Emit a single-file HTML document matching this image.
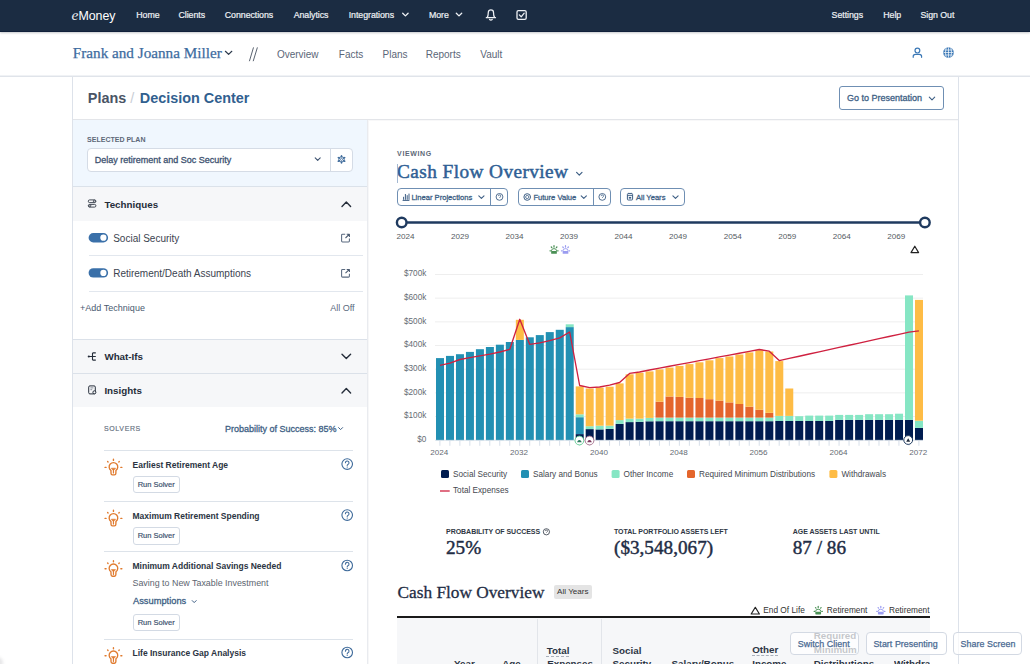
<!DOCTYPE html>
<html><head><meta charset="utf-8"><title>Decision Center</title>
<style>
html,body{margin:0;padding:0;background:#fff;}
body{width:1030px;height:664px;position:relative;overflow:hidden;font-family:'Liberation Sans', Arial, sans-serif;}
.t{position:absolute;white-space:nowrap;}
svg{position:absolute;left:0;top:0;}
</style></head><body>

<div style="position:absolute;left:0;top:0;width:1030px;height:31px;background:#1b2c42;border-bottom:1px solid #10203a;box-shadow:0 1px 2px rgba(20,30,45,0.25)"></div>
<div class="t" style="left:71.4px;top:6.92px;font-size:15.5px;line-height:15.5px;color:#e8ebf0;font-family:'Liberation Serif', 'Times New Roman', serif;font-style:italic">e</div>
<div class="t" style="left:78.60px;top:9.80px;font-size:12.4px;line-height:12.4px;color:#fff;font-weight:normal;font-family:'Liberation Sans', Arial, sans-serif;letter-spacing:-0.1px">Money</div>
<div class="t" style="left:136.30px;top:10.55px;font-size:8.8px;line-height:8.8px;color:#eef1f5;font-weight:normal;font-family:'Liberation Sans', Arial, sans-serif;letter-spacing:-0.05px;-webkit-text-stroke:0.2px #eef1f5">Home</div>
<div class="t" style="left:178.50px;top:10.55px;font-size:8.8px;line-height:8.8px;color:#eef1f5;font-weight:normal;font-family:'Liberation Sans', Arial, sans-serif;letter-spacing:-0.05px;-webkit-text-stroke:0.2px #eef1f5">Clients</div>
<div class="t" style="left:224.80px;top:10.55px;font-size:8.8px;line-height:8.8px;color:#eef1f5;font-weight:normal;font-family:'Liberation Sans', Arial, sans-serif;letter-spacing:-0.05px;-webkit-text-stroke:0.2px #eef1f5">Connections</div>
<div class="t" style="left:293.70px;top:10.55px;font-size:8.8px;line-height:8.8px;color:#eef1f5;font-weight:normal;font-family:'Liberation Sans', Arial, sans-serif;letter-spacing:-0.05px;-webkit-text-stroke:0.2px #eef1f5">Analytics</div>
<div class="t" style="left:348.70px;top:10.55px;font-size:8.8px;line-height:8.8px;color:#eef1f5;font-weight:normal;font-family:'Liberation Sans', Arial, sans-serif;letter-spacing:-0.05px;-webkit-text-stroke:0.2px #eef1f5">Integrations</div>
<div class="t" style="left:428.90px;top:10.55px;font-size:8.8px;line-height:8.8px;color:#eef1f5;font-weight:normal;font-family:'Liberation Sans', Arial, sans-serif;letter-spacing:-0.05px;-webkit-text-stroke:0.2px #eef1f5">More</div>
<div class="t" style="left:831.60px;top:10.55px;font-size:8.8px;line-height:8.8px;color:#eef1f5;font-weight:normal;font-family:'Liberation Sans', Arial, sans-serif;letter-spacing:-0.05px;-webkit-text-stroke:0.2px #eef1f5">Settings</div>
<div class="t" style="left:883.30px;top:10.55px;font-size:8.8px;line-height:8.8px;color:#eef1f5;font-weight:normal;font-family:'Liberation Sans', Arial, sans-serif;letter-spacing:-0.05px;-webkit-text-stroke:0.2px #eef1f5">Help</div>
<div class="t" style="left:920.50px;top:10.55px;font-size:8.8px;line-height:8.8px;color:#eef1f5;font-weight:normal;font-family:'Liberation Sans', Arial, sans-serif;letter-spacing:-0.05px;-webkit-text-stroke:0.2px #eef1f5">Sign Out</div>
<div style="position:absolute;left:0;top:75px;width:1030px;height:1px;background:#f0f2f5"></div>
<div style="position:absolute;left:0;top:76px;width:1030px;height:1px;background:#e0e4ea"></div>
<div class="t" style="left:72.80px;top:44.67px;font-size:15.2px;line-height:15.2px;color:#3e6c9f;font-weight:normal;font-family:'Liberation Serif', 'Times New Roman', serif;-webkit-text-stroke:0.25px #3e6c9f">Frank and Joanna Miller</div>
<div class="t" style="left:276.90px;top:49.73px;font-size:10px;line-height:10px;color:#5b6677;font-weight:normal;font-family:'Liberation Sans', Arial, sans-serif;">Overview</div>
<div class="t" style="left:338.80px;top:49.73px;font-size:10px;line-height:10px;color:#5b6677;font-weight:normal;font-family:'Liberation Sans', Arial, sans-serif;">Facts</div>
<div class="t" style="left:382.50px;top:49.73px;font-size:10px;line-height:10px;color:#5b6677;font-weight:normal;font-family:'Liberation Sans', Arial, sans-serif;">Plans</div>
<div class="t" style="left:425.70px;top:49.73px;font-size:10px;line-height:10px;color:#5b6677;font-weight:normal;font-family:'Liberation Sans', Arial, sans-serif;">Reports</div>
<div class="t" style="left:480.30px;top:49.73px;font-size:10px;line-height:10px;color:#5b6677;font-weight:normal;font-family:'Liberation Sans', Arial, sans-serif;">Vault</div>
<div style="position:absolute;left:72px;top:77px;width:885px;height:600px;border-left:1px solid #dde2ea;border-right:1px solid #dde2ea"></div>
<div style="position:absolute;left:73px;top:119px;width:885px;height:1px;background:#e3e5e9"></div>
<div style="position:absolute;left:368px;top:120px;width:590px;height:1px;background:#f8f8f9"></div>
<div class="t" style="left:87.80px;top:90.71px;font-size:14.4px;line-height:14.4px;color:#4a5465;font-weight:bold;font-family:'Liberation Sans', Arial, sans-serif;">Plans</div>
<div class="t" style="left:130.20px;top:90.71px;font-size:14.4px;line-height:14.4px;color:#c9ced6;font-weight:normal;font-family:'Liberation Sans', Arial, sans-serif;">/</div>
<div class="t" style="left:139.80px;top:90.71px;font-size:14.4px;line-height:14.4px;color:#31608f;font-weight:bold;font-family:'Liberation Sans', Arial, sans-serif;">Decision Center</div>
<div style="position:absolute;left:839px;top:86px;width:103px;height:22px;border:1px solid #6f8fb3;border-radius:3px"></div>
<div class="t" style="left:847.00px;top:93.88px;font-size:9px;line-height:9px;color:#3e5f85;font-weight:normal;font-family:'Liberation Sans', Arial, sans-serif;-webkit-text-stroke:0.3px #3e5f85">Go to Presentation</div>
<div style="position:absolute;left:73px;top:120px;width:294px;height:66px;background:#f0f7fe"></div>
<div style="position:absolute;left:73px;top:186px;width:294px;height:1px;background:#dbe2ea"></div>
<div style="position:absolute;left:367px;top:120px;width:1px;height:544px;background:#e9ebef"></div>
<div style="position:absolute;left:368px;top:120px;width:1px;height:544px;background:#f7f7f8"></div>
<div class="t" style="left:87.10px;top:136.17px;font-size:7px;line-height:7px;color:#5d6878;font-weight:bold;font-family:'Liberation Sans', Arial, sans-serif;">SELECTED PLAN</div>
<div style="position:absolute;left:87px;top:148px;width:264px;height:22px;border:1px solid #d5dce6;border-radius:4px;background:#fff"></div>
<div style="position:absolute;left:329.5px;top:149px;width:1px;height:22px;background:#d5dce6"></div>
<div class="t" style="left:94.70px;top:156.18px;font-size:9px;line-height:9px;color:#3d5270;font-weight:normal;font-family:'Liberation Sans', Arial, sans-serif;-webkit-text-stroke:0.3px #3d5270">Delay retirement and Soc Security</div>
<div style="position:absolute;left:73px;top:187px;width:294px;height:34px;background:#f6f7f9"></div>
<div class="t" style="left:104.40px;top:199.90px;font-size:9.8px;line-height:9.8px;color:#252d3a;font-weight:bold;font-family:'Liberation Sans', Arial, sans-serif;">Techniques</div>
<div class="t" style="left:113.20px;top:233.84px;font-size:10px;line-height:10px;color:#3b4350;font-weight:normal;font-family:'Liberation Sans', Arial, sans-serif;">Social Security</div>
<div style="position:absolute;left:89px;top:255px;width:274px;height:1px;background:#e2e7ee"></div>
<div class="t" style="left:113.20px;top:269.04px;font-size:10px;line-height:10px;color:#3b4350;font-weight:normal;font-family:'Liberation Sans', Arial, sans-serif;">Retirement/Death Assumptions</div>
<div style="position:absolute;left:89px;top:291px;width:274px;height:1px;background:#e2e7ee"></div>
<div class="t" style="left:79.90px;top:304.18px;font-size:9px;line-height:9px;color:#4a5a70;font-weight:normal;font-family:'Liberation Sans', Arial, sans-serif;letter-spacing:0.03px">+Add Technique</div>
<div class="t" style="right:675.50px;top:304.18px;font-size:9px;line-height:9px;color:#5a6a80;font-weight:normal;font-family:'Liberation Sans', Arial, sans-serif;">All Off</div>
<div style="position:absolute;left:73px;top:339px;width:294px;height:1px;background:#dbe1e9"></div>
<div style="position:absolute;left:73px;top:340px;width:294px;height:33px;background:#f6f7f9"></div>
<div class="t" style="left:104.40px;top:352.40px;font-size:9.8px;line-height:9.8px;color:#252d3a;font-weight:bold;font-family:'Liberation Sans', Arial, sans-serif;">What-Ifs</div>
<div style="position:absolute;left:73px;top:373px;width:294px;height:1px;background:#dbe1e9"></div>
<div style="position:absolute;left:73px;top:374px;width:294px;height:33px;background:#f6f7f9"></div>
<div class="t" style="left:104.40px;top:386.40px;font-size:9.8px;line-height:9.8px;color:#252d3a;font-weight:bold;font-family:'Liberation Sans', Arial, sans-serif;">Insights</div>
<div class="t" style="left:104.00px;top:425.27px;font-size:7px;line-height:7px;color:#657080;font-weight:normal;font-family:'Liberation Sans', Arial, sans-serif;letter-spacing:0.62px;-webkit-text-stroke:0.15px #657080">SOLVERS</div>
<div class="t" style="left:224.90px;top:424.58px;font-size:9px;line-height:9px;color:#3e5f85;font-weight:normal;font-family:'Liberation Sans', Arial, sans-serif;-webkit-text-stroke:0.3px #3e5f85">Probability of Success: 85%</div>
<div style="position:absolute;left:104px;top:450px;width:249px;height:1px;background:#dde3ea"></div>
<div class="t" style="left:132.50px;top:460.90px;font-size:8.5px;line-height:8.5px;color:#2b3442;font-weight:bold;font-family:'Liberation Sans', Arial, sans-serif;">Earliest Retirement Age</div>
<div style="position:absolute;left:132.5px;top:475.7px;width:45.7px;height:15.8px;border:1px solid #d3dae4;border-radius:3px;background:#fff"></div>
<div class="t" style="left:137.70px;top:480.95px;font-size:7.5px;line-height:7.5px;color:#3e5470;font-weight:normal;font-family:'Liberation Sans', Arial, sans-serif;-webkit-text-stroke:0.2px #3e5470">Run Solver</div>
<div style="position:absolute;left:104px;top:501px;width:249px;height:1px;background:#dde3ea"></div>
<div class="t" style="left:132.50px;top:512.00px;font-size:8.5px;line-height:8.5px;color:#2b3442;font-weight:bold;font-family:'Liberation Sans', Arial, sans-serif;">Maximum Retirement Spending</div>
<div style="position:absolute;left:132.5px;top:526.8px;width:45.7px;height:15.8px;border:1px solid #d3dae4;border-radius:3px;background:#fff"></div>
<div class="t" style="left:137.70px;top:532.05px;font-size:7.5px;line-height:7.5px;color:#3e5470;font-weight:normal;font-family:'Liberation Sans', Arial, sans-serif;-webkit-text-stroke:0.2px #3e5470">Run Solver</div>
<div style="position:absolute;left:104px;top:551.3px;width:249px;height:1px;background:#dde3ea"></div>
<div class="t" style="left:132.50px;top:562.20px;font-size:8.5px;line-height:8.5px;color:#2b3442;font-weight:bold;font-family:'Liberation Sans', Arial, sans-serif;">Minimum Additional Savings Needed</div>
<div class="t" style="left:132.50px;top:579.47px;font-size:8.9px;line-height:8.9px;color:#5d6570;font-weight:normal;font-family:'Liberation Sans', Arial, sans-serif;">Saving to New Taxable Investment</div>
<div class="t" style="left:133.00px;top:596.93px;font-size:9.3px;line-height:9.3px;color:#3e5f85;font-weight:normal;font-family:'Liberation Sans', Arial, sans-serif;-webkit-text-stroke:0.3px #3e5f85">Assumptions</div>
<div style="position:absolute;left:132.5px;top:613.7px;width:45.7px;height:15.8px;border:1px solid #d3dae4;border-radius:3px;background:#fff"></div>
<div class="t" style="left:137.70px;top:618.95px;font-size:7.5px;line-height:7.5px;color:#3e5470;font-weight:normal;font-family:'Liberation Sans', Arial, sans-serif;-webkit-text-stroke:0.2px #3e5470">Run Solver</div>
<div style="position:absolute;left:104px;top:638.5px;width:249px;height:1px;background:#dde3ea"></div>
<div class="t" style="left:132.50px;top:649.20px;font-size:8.5px;line-height:8.5px;color:#2b3442;font-weight:bold;font-family:'Liberation Sans', Arial, sans-serif;">Life Insurance Gap Analysis</div>
<div class="t" style="left:397.10px;top:150.37px;font-size:7px;line-height:7px;color:#5d6878;font-weight:bold;font-family:'Liberation Sans', Arial, sans-serif;letter-spacing:0.62px">VIEWING</div>
<div class="t" style="left:397.00px;top:162.14px;font-size:19.3px;line-height:19.3px;color:#2f5f95;font-weight:normal;font-family:'Liberation Serif', 'Times New Roman', serif;letter-spacing:0.42px;-webkit-text-stroke:0.5px #2f5f95">Cash Flow Overview</div>
<div style="position:absolute;left:396.8px;top:164px;width:1px;height:19px;background:#a3b8d2"></div>
<div style="position:absolute;left:397.1px;top:188.3px;width:109.1px;height:16px;border:1px solid #6f8fb3;border-radius:4px"></div>
<div style="position:absolute;left:490.3px;top:188.3px;width:1px;height:18px;background:#6f8fb3"></div>
<div style="position:absolute;left:518.1px;top:188.3px;width:90.6px;height:16px;border:1px solid #6f8fb3;border-radius:4px"></div>
<div style="position:absolute;left:593.3px;top:188.3px;width:1px;height:18px;background:#6f8fb3"></div>
<div style="position:absolute;left:620.4px;top:188.3px;width:63.0px;height:16px;border:1px solid #6f8fb3;border-radius:4px"></div>
<div class="t" style="left:411.40px;top:193.67px;font-size:7.6px;line-height:7.6px;color:#3e5f85;font-weight:normal;font-family:'Liberation Sans', Arial, sans-serif;-webkit-text-stroke:0.3px #3e5f85">Linear Projections</div>
<div class="t" style="left:533.40px;top:193.67px;font-size:7.6px;line-height:7.6px;color:#3e5f85;font-weight:normal;font-family:'Liberation Sans', Arial, sans-serif;-webkit-text-stroke:0.3px #3e5f85">Future Value</div>
<div class="t" style="left:635.90px;top:193.67px;font-size:7.6px;line-height:7.6px;color:#3e5f85;font-weight:normal;font-family:'Liberation Sans', Arial, sans-serif;-webkit-text-stroke:0.3px #3e5f85">All Years</div>
<div class="t" style="left:396.40px;top:233.14px;font-size:8.1px;line-height:8.1px;color:#555b63;font-weight:normal;font-family:'Liberation Sans', Arial, sans-serif;">2024</div>
<div class="t" style="left:450.94px;top:233.14px;font-size:8.1px;line-height:8.1px;color:#555b63;font-weight:normal;font-family:'Liberation Sans', Arial, sans-serif;">2029</div>
<div class="t" style="left:505.48px;top:233.14px;font-size:8.1px;line-height:8.1px;color:#555b63;font-weight:normal;font-family:'Liberation Sans', Arial, sans-serif;">2034</div>
<div class="t" style="left:560.02px;top:233.14px;font-size:8.1px;line-height:8.1px;color:#555b63;font-weight:normal;font-family:'Liberation Sans', Arial, sans-serif;">2039</div>
<div class="t" style="left:614.56px;top:233.14px;font-size:8.1px;line-height:8.1px;color:#555b63;font-weight:normal;font-family:'Liberation Sans', Arial, sans-serif;">2044</div>
<div class="t" style="left:669.10px;top:233.14px;font-size:8.1px;line-height:8.1px;color:#555b63;font-weight:normal;font-family:'Liberation Sans', Arial, sans-serif;">2049</div>
<div class="t" style="left:723.64px;top:233.14px;font-size:8.1px;line-height:8.1px;color:#555b63;font-weight:normal;font-family:'Liberation Sans', Arial, sans-serif;">2054</div>
<div class="t" style="left:778.18px;top:233.14px;font-size:8.1px;line-height:8.1px;color:#555b63;font-weight:normal;font-family:'Liberation Sans', Arial, sans-serif;">2059</div>
<div class="t" style="left:832.72px;top:233.14px;font-size:8.1px;line-height:8.1px;color:#555b63;font-weight:normal;font-family:'Liberation Sans', Arial, sans-serif;">2064</div>
<div class="t" style="left:887.26px;top:233.14px;font-size:8.1px;line-height:8.1px;color:#555b63;font-weight:normal;font-family:'Liberation Sans', Arial, sans-serif;">2069</div>
<div class="t" style="right:603.70px;top:436.16px;font-size:8.2px;line-height:8.2px;color:#666c74;font-weight:normal;font-family:'Liberation Sans', Arial, sans-serif;">$0</div>
<div class="t" style="right:603.70px;top:412.49px;font-size:8.2px;line-height:8.2px;color:#666c74;font-weight:normal;font-family:'Liberation Sans', Arial, sans-serif;">$100k</div>
<div class="t" style="right:603.70px;top:388.82px;font-size:8.2px;line-height:8.2px;color:#666c74;font-weight:normal;font-family:'Liberation Sans', Arial, sans-serif;">$200k</div>
<div class="t" style="right:603.70px;top:365.15px;font-size:8.2px;line-height:8.2px;color:#666c74;font-weight:normal;font-family:'Liberation Sans', Arial, sans-serif;">$300k</div>
<div class="t" style="right:603.70px;top:341.48px;font-size:8.2px;line-height:8.2px;color:#666c74;font-weight:normal;font-family:'Liberation Sans', Arial, sans-serif;">$400k</div>
<div class="t" style="right:603.70px;top:317.81px;font-size:8.2px;line-height:8.2px;color:#666c74;font-weight:normal;font-family:'Liberation Sans', Arial, sans-serif;">$500k</div>
<div class="t" style="right:603.70px;top:294.14px;font-size:8.2px;line-height:8.2px;color:#666c74;font-weight:normal;font-family:'Liberation Sans', Arial, sans-serif;">$600k</div>
<div class="t" style="right:603.70px;top:270.47px;font-size:8.2px;line-height:8.2px;color:#666c74;font-weight:normal;font-family:'Liberation Sans', Arial, sans-serif;">$700k</div>
<div class="t" style="left:439.30px;top:448.84px;font-size:8.1px;line-height:8.1px;color:#666c74;font-weight:normal;font-family:'Liberation Sans', Arial, sans-serif;transform:translateX(-50%)">2024</div>
<div class="t" style="left:519.13px;top:448.84px;font-size:8.1px;line-height:8.1px;color:#666c74;font-weight:normal;font-family:'Liberation Sans', Arial, sans-serif;transform:translateX(-50%)">2032</div>
<div class="t" style="left:598.96px;top:448.84px;font-size:8.1px;line-height:8.1px;color:#666c74;font-weight:normal;font-family:'Liberation Sans', Arial, sans-serif;transform:translateX(-50%)">2040</div>
<div class="t" style="left:678.79px;top:448.84px;font-size:8.1px;line-height:8.1px;color:#666c74;font-weight:normal;font-family:'Liberation Sans', Arial, sans-serif;transform:translateX(-50%)">2048</div>
<div class="t" style="left:758.62px;top:448.84px;font-size:8.1px;line-height:8.1px;color:#666c74;font-weight:normal;font-family:'Liberation Sans', Arial, sans-serif;transform:translateX(-50%)">2056</div>
<div class="t" style="left:838.45px;top:448.84px;font-size:8.1px;line-height:8.1px;color:#666c74;font-weight:normal;font-family:'Liberation Sans', Arial, sans-serif;transform:translateX(-50%)">2064</div>
<div class="t" style="left:918.28px;top:448.84px;font-size:8.1px;line-height:8.1px;color:#666c74;font-weight:normal;font-family:'Liberation Sans', Arial, sans-serif;transform:translateX(-50%)">2072</div>
<div class="t" style="left:453.00px;top:470.56px;font-size:8.2px;line-height:8.2px;color:#44484f;font-weight:normal;font-family:'Liberation Sans', Arial, sans-serif;">Social Security</div>
<div class="t" style="left:533.00px;top:470.56px;font-size:8.2px;line-height:8.2px;color:#44484f;font-weight:normal;font-family:'Liberation Sans', Arial, sans-serif;">Salary and Bonus</div>
<div class="t" style="left:623.60px;top:470.56px;font-size:8.2px;line-height:8.2px;color:#44484f;font-weight:normal;font-family:'Liberation Sans', Arial, sans-serif;">Other Income</div>
<div class="t" style="left:699.00px;top:470.56px;font-size:8.2px;line-height:8.2px;color:#44484f;font-weight:normal;font-family:'Liberation Sans', Arial, sans-serif;">Required Minimum Distributions</div>
<div class="t" style="left:841.40px;top:470.56px;font-size:8.2px;line-height:8.2px;color:#44484f;font-weight:normal;font-family:'Liberation Sans', Arial, sans-serif;">Withdrawals</div>
<div class="t" style="left:453.00px;top:486.76px;font-size:8.2px;line-height:8.2px;color:#44484f;font-weight:normal;font-family:'Liberation Sans', Arial, sans-serif;">Total Expenses</div>
<div class="t" style="left:446.00px;top:528.47px;font-size:7px;line-height:7px;color:#2f3744;font-weight:bold;font-family:'Liberation Sans', Arial, sans-serif;letter-spacing:-0.03px">PROBABILITY OF SUCCESS</div>
<div class="t" style="left:446.00px;top:537.92px;font-size:19.2px;line-height:19.2px;color:#1f2d45;font-weight:normal;font-family:'Liberation Serif', 'Times New Roman', serif;-webkit-text-stroke:0.45px #1f2d45">25%</div>
<div class="t" style="left:614.00px;top:528.47px;font-size:7px;line-height:7px;color:#2f3744;font-weight:bold;font-family:'Liberation Sans', Arial, sans-serif;letter-spacing:-0.03px">TOTAL PORTFOLIO ASSETS LEFT</div>
<div class="t" style="left:614.00px;top:537.92px;font-size:19.2px;line-height:19.2px;color:#1f2d45;font-weight:normal;font-family:'Liberation Serif', 'Times New Roman', serif;-webkit-text-stroke:0.45px #1f2d45">($3,548,067)</div>
<div class="t" style="left:792.70px;top:528.47px;font-size:7px;line-height:7px;color:#2f3744;font-weight:bold;font-family:'Liberation Sans', Arial, sans-serif;letter-spacing:-0.03px">AGE ASSETS LAST UNTIL</div>
<div class="t" style="left:792.70px;top:537.92px;font-size:19.2px;line-height:19.2px;color:#1f2d45;font-weight:normal;font-family:'Liberation Serif', 'Times New Roman', serif;-webkit-text-stroke:0.45px #1f2d45">87 / 86</div>
<div class="t" style="left:397.50px;top:583.61px;font-size:17.3px;line-height:17.3px;color:#1f2d45;font-weight:normal;font-family:'Liberation Serif', 'Times New Roman', serif;-webkit-text-stroke:0.3px #1f2d45">Cash Flow Overview</div>
<div style="position:absolute;left:554.1px;top:584.6px;width:37.8px;height:14px;background:#e4e4e4;border-radius:2px"></div>
<div class="t" style="left:557.10px;top:588.14px;font-size:8.1px;line-height:8.1px;color:#333;font-weight:normal;font-family:'Liberation Sans', Arial, sans-serif;">All Years</div>
<div class="t" style="left:763.30px;top:606.47px;font-size:8.3px;line-height:8.3px;color:#333;font-weight:normal;font-family:'Liberation Sans', Arial, sans-serif;">End Of Life</div>
<div class="t" style="left:826.80px;top:606.47px;font-size:8.3px;line-height:8.3px;color:#333;font-weight:normal;font-family:'Liberation Sans', Arial, sans-serif;">Retirement</div>
<div class="t" style="left:888.90px;top:606.47px;font-size:8.3px;line-height:8.3px;color:#333;font-weight:normal;font-family:'Liberation Sans', Arial, sans-serif;">Retirement</div>
<div style="position:absolute;left:397px;top:618px;width:533px;height:46px;background:#f6f7f9"></div>
<div style="position:absolute;left:397px;top:616.3px;width:533px;height:2px;background:#1a1a1a"></div>
<div style="position:absolute;left:536.5px;top:619px;width:1px;height:45px;background:#e2e5ea"></div>
<div style="position:absolute;left:601.3px;top:619px;width:1px;height:45px;background:#e2e5ea"></div>
<div class="t" style="left:454.00px;top:659.40px;font-size:9.8px;line-height:9.8px;color:#2c3544;font-weight:bold;font-family:'Liberation Sans', Arial, sans-serif;">Year</div>
<div class="t" style="left:502.20px;top:659.40px;font-size:9.8px;line-height:9.8px;color:#2c3544;font-weight:bold;font-family:'Liberation Sans', Arial, sans-serif;">Age</div>
<div class="t" style="left:546.80px;top:645.50px;font-size:9.8px;line-height:9.8px;color:#2c3544;font-weight:bold;font-family:'Liberation Sans', Arial, sans-serif;text-decoration:underline dashed #a9b0bb;text-decoration-thickness:1px;text-underline-offset:2.3px">Total</div>
<div class="t" style="left:547.20px;top:659.40px;font-size:9.8px;line-height:9.8px;color:#2c3544;font-weight:bold;font-family:'Liberation Sans', Arial, sans-serif;">Expenses</div>
<div class="t" style="left:612.50px;top:645.50px;font-size:9.8px;line-height:9.8px;color:#2c3544;font-weight:bold;font-family:'Liberation Sans', Arial, sans-serif;">Social</div>
<div class="t" style="left:612.50px;top:659.40px;font-size:9.8px;line-height:9.8px;color:#2c3544;font-weight:bold;font-family:'Liberation Sans', Arial, sans-serif;">Security</div>
<div class="t" style="left:671.50px;top:659.40px;font-size:9.8px;line-height:9.8px;color:#2c3544;font-weight:bold;font-family:'Liberation Sans', Arial, sans-serif;">Salary/Bonus</div>
<div class="t" style="left:752.20px;top:645.40px;font-size:9.8px;line-height:9.8px;color:#2c3544;font-weight:bold;font-family:'Liberation Sans', Arial, sans-serif;text-decoration:underline dashed #a9b0bb;text-decoration-thickness:1px;text-underline-offset:2.3px">Other</div>
<div class="t" style="left:752.20px;top:659.40px;font-size:9.8px;line-height:9.8px;color:#2c3544;font-weight:bold;font-family:'Liberation Sans', Arial, sans-serif;">Income</div>
<div class="t" style="left:813.80px;top:630.90px;font-size:9.8px;line-height:9.8px;color:#2c3544;font-weight:bold;font-family:'Liberation Sans', Arial, sans-serif;">Required</div>
<div class="t" style="left:813.80px;top:645.40px;font-size:9.8px;line-height:9.8px;color:#2c3544;font-weight:bold;font-family:'Liberation Sans', Arial, sans-serif;">Minimum</div>
<div class="t" style="left:813.80px;top:659.40px;font-size:9.8px;line-height:9.8px;color:#2c3544;font-weight:bold;font-family:'Liberation Sans', Arial, sans-serif;">Distributions</div>
<div style="position:absolute;left:893.9px;top:655px;width:36px;height:14px;overflow:hidden"><div class="t" style="left:0.00px;top:4.40px;font-size:9.8px;line-height:9.8px;color:#2c3544;font-weight:bold;font-family:'Liberation Sans', Arial, sans-serif;">Withdrawals</div></div>
<div style="position:absolute;left:-7px;top:657px;width:10px;height:12px;border-radius:50%;background:rgba(60,60,70,0.12);filter:blur(1.5px)"></div>
<div style="position:absolute;left:790.4px;top:631.9px;width:66.9px;height:21.4px;border:1px solid #d3d9e3;border-radius:4px;background:rgba(255,255,255,0.72)"></div>
<div class="t" style="left:797.80px;top:639.67px;font-size:8.9px;line-height:8.9px;color:#4a6a92;font-weight:normal;font-family:'Liberation Sans', Arial, sans-serif;letter-spacing:0.05px;-webkit-text-stroke:0.25px #4a6a92">Switch Client</div>
<div style="position:absolute;left:865.7px;top:631.9px;width:79.1px;height:21.4px;border:1px solid #d3d9e3;border-radius:4px;background:rgba(255,255,255,0.72)"></div>
<div class="t" style="left:873.40px;top:639.67px;font-size:8.9px;line-height:8.9px;color:#4a6a92;font-weight:normal;font-family:'Liberation Sans', Arial, sans-serif;letter-spacing:0.05px;-webkit-text-stroke:0.25px #4a6a92">Start Presenting</div>
<div style="position:absolute;left:953.2px;top:631.9px;width:66.9px;height:21.4px;border:1px solid #d3d9e3;border-radius:4px;background:rgba(255,255,255,0.72)"></div>
<div class="t" style="left:960.60px;top:639.67px;font-size:8.9px;line-height:8.9px;color:#4a6a92;font-weight:normal;font-family:'Liberation Sans', Arial, sans-serif;letter-spacing:0.05px;-webkit-text-stroke:0.25px #4a6a92">Share Screen</div>
<svg width="1030" height="664" viewBox="0 0 1030 664"><path d="M402.7,13.2 L405.4,15.9 L408.09999999999997,13.2" fill="none" stroke="#eef1f5" stroke-width="1.3" stroke-linecap="round" stroke-linejoin="round"/><path d="M456.3,13.2 L459,15.9 L461.7,13.2" fill="none" stroke="#eef1f5" stroke-width="1.3" stroke-linecap="round" stroke-linejoin="round"/><path d="M486.3,17.7 L495.5,17.7 M487.2,17.5 Q488.3,15.6 488.3,12.4 A2.6,2.6 0 0 1 493.5,12.4 Q493.5,15.6 494.6,17.5 M489.6,19.5 Q490.9,20.7 492.2,19.5" fill="none" stroke="#eef1f5" stroke-width="1.25" stroke-linecap="round" stroke-linejoin="round"/><rect x="517" y="10.6" width="9.2" height="8.8" rx="1.4" fill="none" stroke="#eef1f5" stroke-width="1.3"/><path d="M519.3,14.9 L521.2,16.8 L524.2,13.2" fill="none" stroke="#eef1f5" stroke-width="1.3" stroke-linecap="round" stroke-linejoin="round"/><path d="M225.4,51.3 L228.6,54.4 L231.8,51.3" fill="none" stroke="#2d3a4c" stroke-width="1.2" stroke-linecap="round" stroke-linejoin="round"/><path d="M253.5,47.4 L249.4,61.2 M257.4,47.4 L253.2,61.2" fill="none" stroke="#5a6370" stroke-width="1"/><circle cx="917.4" cy="50.6" r="2.4" fill="none" stroke="#3b78b6" stroke-width="1.2"/><path d="M913.2,57.3 L913.2,56.6 A2.2,2.2 0 0 1 915.4,54.4 L919.4,54.4 A2.2,2.2 0 0 1 921.6,56.6 L921.6,57.3" fill="none" stroke="#3b78b6" stroke-width="1.2" stroke-linecap="round"/><circle cx="948.5" cy="52.5" r="5.3" fill="#3b78b6"/><path d="M943.6,52.5 L953.4,52.5 M944.5,50 L952.5,50 M944.5,55 L952.5,55 M948.5,47.3 L948.5,57.7 M946.2,47.8 Q944.6,52.5 946.2,57.2 M950.8,47.8 Q952.4,52.5 950.8,57.2" fill="none" stroke="#fff" stroke-width="0.7"/><path d="M929.3,97.2 L932,99.9 L934.7,97.2" fill="none" stroke="#3e5f85" stroke-width="1.1" stroke-linecap="round" stroke-linejoin="round"/><path d="M315.2,157.8 L317.7,160.3 L320.2,157.8" fill="none" stroke="#3d5270" stroke-width="1.1" stroke-linecap="round" stroke-linejoin="round"/><circle cx="341.5" cy="159.4" r="2.7" fill="none" stroke="#3d6a9a" stroke-width="1"/><path d="M341.50,156.80 L341.50,155.70 M343.75,158.10 L344.70,157.55 M343.75,160.70 L344.70,161.25 M341.50,162.00 L341.50,163.10 M339.25,160.70 L338.30,161.25 M339.25,158.10 L338.30,157.55" stroke="#3d6a9a" stroke-width="1.5" stroke-linecap="round"/><circle cx="341.5" cy="159.4" r="1.05" fill="none" stroke="#3d6a9a" stroke-width="0.8"/><path d="M342,206.4 L346.3,202.1 L350.6,206.4" fill="none" stroke="#252d3a" stroke-width="1.4" stroke-linecap="round" stroke-linejoin="round"/><rect x="88.3" y="199.9" width="7.6" height="2.7" rx="1.35" fill="none" stroke="#252d3a" stroke-width="0.85"/><rect x="88.3" y="204.4" width="7.6" height="2.7" rx="1.35" fill="none" stroke="#252d3a" stroke-width="0.85"/><circle cx="94.4" cy="201.2" r="1.05" fill="#f6f7f9" stroke="#252d3a" stroke-width="0.8"/><circle cx="89.8" cy="205.8" r="1.05" fill="#f6f7f9" stroke="#252d3a" stroke-width="0.8"/><rect x="88.6" y="233" width="19.5" height="9.4" rx="4.7" fill="#3a70a9"/><circle cx="103.4" cy="237.7" r="3.1" fill="#fff"/><path d="M345.2,234.2 L342.5,234.2 Q341.6,234.2 341.6,235.1 L341.6,241.0 Q341.6,241.9 342.5,241.9 L348.5,241.9 Q349.4,241.9 349.4,241.0 L349.4,238.6" fill="none" stroke="#5a6a80" stroke-width="1.05"/><path d="M345.5,238.0 L349.4,234.2 M346.7,234.2 L349.4,234.2 L349.4,236.9" fill="none" stroke="#4a5a70" stroke-width="1.05" stroke-linejoin="round"/><rect x="88.6" y="268.2" width="19.5" height="9.4" rx="4.7" fill="#3a70a9"/><circle cx="103.4" cy="272.9" r="3.1" fill="#fff"/><path d="M345.2,269.4 L342.5,269.4 Q341.6,269.4 341.6,270.3 L341.6,276.2 Q341.6,277.1 342.5,277.1 L348.5,277.1 Q349.4,277.1 349.4,276.2 L349.4,273.8" fill="none" stroke="#5a6a80" stroke-width="1.05"/><path d="M345.5,273.2 L349.4,269.4 M346.7,269.4 L349.4,269.4 L349.4,272.1" fill="none" stroke="#4a5a70" stroke-width="1.05" stroke-linejoin="round"/><path d="M342,354.3 L346.3,358.6 L350.6,354.3" fill="none" stroke="#252d3a" stroke-width="1.4" stroke-linecap="round" stroke-linejoin="round"/><circle cx="88.8" cy="356.5" r="1.1" fill="#252d3a"/><path d="M88.8,356.5 L92,356.5 M92.5,352.9 L92.5,360.1 M92.5,352.9 L95.8,352.9 M92.5,356.5 L95.8,356.5 M92.5,360.1 L95.8,360.1" fill="none" stroke="#252d3a" stroke-width="1.1"/><path d="M342,392.9 L346.3,388.6 L350.6,392.9" fill="none" stroke="#252d3a" stroke-width="1.4" stroke-linecap="round" stroke-linejoin="round"/><rect x="88.7" y="385.9" width="6.6" height="8" rx="1.2" fill="none" stroke="#252d3a" stroke-width="1"/><path d="M90.4,387.9 L93.4,387.9 M90.4,389.7 L92.2,389.7" stroke="#7a8290" stroke-width="0.9"/><circle cx="94.4" cy="392.3" r="1.5" fill="#f6f7f9" stroke="#252d3a" stroke-width="1"/><path d="M338.6,427.6 L340.6,429.6 L342.6,427.6" fill="none" stroke="#3e5f85" stroke-width="1" stroke-linecap="round" stroke-linejoin="round"/><path d="M110.95,470.40 A4.3,4.3 0 1 1 115.95,470.40 L115.85,473.40 Q115.85,474.80 114.45,474.80 L112.45,474.80 Q111.05,474.80 111.05,473.40 Z" fill="none" stroke="#e07b2f" stroke-width="1.35" stroke-linejoin="round"/><path d="M111.25,468.20 L115.65,468.20 L113.45,470.40 Z" fill="#e07b2f" stroke="#e07b2f" stroke-width="0.6" stroke-linejoin="round"/><path d="M113.45,469.30 L113.45,473.50" stroke="#e07b2f" stroke-width="1.2"/><path d="M113.45,459.30 L113.45,460.40 M107.65,461.60 L108.05,462.00 M119.25,461.60 L118.85,462.00 M105.05,467.40 L106.05,467.40 M121.85,467.40 L120.85,467.40" fill="none" stroke="#e07b2f" stroke-width="1.4" stroke-linecap="round"/><circle cx="347.2" cy="464.1" r="5.3" fill="none" stroke="#3e6a9a" stroke-width="1.1"/><path d="M345.4,462.8 A1.8,1.8 0 1 1 347.9,464.4 Q347.2,464.8 347.2,465.6" fill="none" stroke="#3e6a9a" stroke-width="1.05" stroke-linecap="round"/><circle cx="347.2" cy="467.1" r="0.6" fill="#3e6a9a"/><path d="M110.95,521.40 A4.3,4.3 0 1 1 115.95,521.40 L115.85,524.40 Q115.85,525.80 114.45,525.80 L112.45,525.80 Q111.05,525.80 111.05,524.40 Z" fill="none" stroke="#e07b2f" stroke-width="1.35" stroke-linejoin="round"/><path d="M111.25,519.20 L115.65,519.20 L113.45,521.40 Z" fill="#e07b2f" stroke="#e07b2f" stroke-width="0.6" stroke-linejoin="round"/><path d="M113.45,520.30 L113.45,524.50" stroke="#e07b2f" stroke-width="1.2"/><path d="M113.45,510.30 L113.45,511.40 M107.65,512.60 L108.05,513.00 M119.25,512.60 L118.85,513.00 M105.05,518.40 L106.05,518.40 M121.85,518.40 L120.85,518.40" fill="none" stroke="#e07b2f" stroke-width="1.4" stroke-linecap="round"/><circle cx="347.2" cy="515.1" r="5.3" fill="none" stroke="#3e6a9a" stroke-width="1.1"/><path d="M345.4,513.8 A1.8,1.8 0 1 1 347.9,515.4 Q347.2,515.8 347.2,516.6" fill="none" stroke="#3e6a9a" stroke-width="1.05" stroke-linecap="round"/><circle cx="347.2" cy="518.1" r="0.6" fill="#3e6a9a"/><path d="M110.95,571.80 A4.3,4.3 0 1 1 115.95,571.80 L115.85,574.80 Q115.85,576.20 114.45,576.20 L112.45,576.20 Q111.05,576.20 111.05,574.80 Z" fill="none" stroke="#e07b2f" stroke-width="1.35" stroke-linejoin="round"/><path d="M111.25,569.60 L115.65,569.60 L113.45,571.80 Z" fill="#e07b2f" stroke="#e07b2f" stroke-width="0.6" stroke-linejoin="round"/><path d="M113.45,570.70 L113.45,574.90" stroke="#e07b2f" stroke-width="1.2"/><path d="M113.45,560.70 L113.45,561.80 M107.65,563.00 L108.05,563.40 M119.25,563.00 L118.85,563.40 M105.05,568.80 L106.05,568.80 M121.85,568.80 L120.85,568.80" fill="none" stroke="#e07b2f" stroke-width="1.4" stroke-linecap="round"/><circle cx="347.2" cy="565.5" r="5.3" fill="none" stroke="#3e6a9a" stroke-width="1.1"/><path d="M345.4,564.2 A1.8,1.8 0 1 1 347.9,565.8 Q347.2,566.2 347.2,567.0" fill="none" stroke="#3e6a9a" stroke-width="1.05" stroke-linecap="round"/><circle cx="347.2" cy="568.5" r="0.6" fill="#3e6a9a"/><path d="M192.2,600.6 L194.2,602.6 L196.2,600.6" fill="none" stroke="#3e5f85" stroke-width="1" stroke-linecap="round" stroke-linejoin="round"/><path d="M110.95,658.80 A4.3,4.3 0 1 1 115.95,658.80 L115.85,661.80 Q115.85,663.20 114.45,663.20 L112.45,663.20 Q111.05,663.20 111.05,661.80 Z" fill="none" stroke="#e07b2f" stroke-width="1.35" stroke-linejoin="round"/><path d="M111.25,656.60 L115.65,656.60 L113.45,658.80 Z" fill="#e07b2f" stroke="#e07b2f" stroke-width="0.6" stroke-linejoin="round"/><path d="M113.45,657.70 L113.45,661.90" stroke="#e07b2f" stroke-width="1.2"/><path d="M113.45,647.70 L113.45,648.80 M107.65,650.00 L108.05,650.40 M119.25,650.00 L118.85,650.40 M105.05,655.80 L106.05,655.80 M121.85,655.80 L120.85,655.80" fill="none" stroke="#e07b2f" stroke-width="1.4" stroke-linecap="round"/><circle cx="347.2" cy="652.5" r="5.3" fill="none" stroke="#3e6a9a" stroke-width="1.1"/><path d="M345.4,651.2 A1.8,1.8 0 1 1 347.9,652.8 Q347.2,653.2 347.2,654.0" fill="none" stroke="#3e6a9a" stroke-width="1.05" stroke-linecap="round"/><circle cx="347.2" cy="655.5" r="0.6" fill="#3e6a9a"/><path d="M576.6,172.4 L579.3,175.1 L582,172.4" fill="none" stroke="#3e5f85" stroke-width="1.2" stroke-linecap="round" stroke-linejoin="round"/><path d="M478.8,195.8 L481.4,198.4 L484.0,195.8" fill="none" stroke="#3e5f85" stroke-width="1.1" stroke-linecap="round" stroke-linejoin="round"/><path d="M581.2,195.8 L583.8,198.4 L586.4,195.8" fill="none" stroke="#3e5f85" stroke-width="1.1" stroke-linecap="round" stroke-linejoin="round"/><path d="M672.9,195.8 L675.5,198.4 L678.1,195.8" fill="none" stroke="#3e5f85" stroke-width="1.1" stroke-linecap="round" stroke-linejoin="round"/><circle cx="499.5" cy="196.9" r="3.4" fill="none" stroke="#3e5f85" stroke-width="0.9"/><path d="M498.4,196.1 A1.15,1.15 0 1 1 500.0,197.1 L499.5,197.9" fill="none" stroke="#3e5f85" stroke-width="0.8"/><circle cx="602.3" cy="196.9" r="3.4" fill="none" stroke="#3e5f85" stroke-width="0.9"/><path d="M601.2,196.1 A1.15,1.15 0 1 1 602.8,197.1 L602.3,197.9" fill="none" stroke="#3e5f85" stroke-width="0.8"/><path d="M402.6,200.4 L409.4,200.4 M403.6,199.8 L403.6,196.8 M405.4,199.8 L405.4,194 M407.2,199.8 L407.2,195.2 M409,199.8 L409,193.6" fill="none" stroke="#3e5f85" stroke-width="1"/><circle cx="527.2" cy="197" r="3.3" fill="none" stroke="#3e5f85" stroke-width="1"/><circle cx="527.2" cy="197" r="1.6" fill="none" stroke="#3e5f85" stroke-width="0.8"/><rect x="627.4" y="193.6" width="5.2" height="6.4" rx="0.8" fill="none" stroke="#3e5f85" stroke-width="1"/><path d="M627.4,195.6 L632.6,195.6 M628.8,192.8 L628.8,194.2 M631.2,192.8 L631.2,194.2" stroke="#3e5f85" stroke-width="0.9"/><rect x="628.8" y="197" width="2.4" height="1.6" fill="#3e5f85"/><line x1="401.7" y1="222.5" x2="924.9" y2="222.5" stroke="#1f3a5f" stroke-width="2.3"/><circle cx="401.7" cy="222.5" r="4.8" fill="#fff" stroke="#1f3a5f" stroke-width="2.4"/><circle cx="924.9" cy="222.5" r="4.8" fill="#fff" stroke="#1f3a5f" stroke-width="2.4"/><rect x="551.15" y="250.80" width="5.7" height="3.0" rx="0.6" fill="#4a9055"/><path d="M551.40,250.90 A2.6,2.3 0 0 1 556.60,250.90" fill="#fff" stroke="#4a9055" stroke-width="0.95"/><path d="M554.00,245.70 L554.00,247.00 M551.30,247.00 L551.80,247.50 M556.90,247.00 L556.40,247.50 M550.00,250.80 L550.50,250.80 M558.10,250.80 L557.60,250.80" stroke="#4a9055" stroke-width="1.25" stroke-linecap="round"/><rect x="562.65" y="250.80" width="5.7" height="3.0" rx="0.6" fill="#9a9cf0"/><path d="M562.90,250.90 A2.6,2.3 0 0 1 568.10,250.90" fill="#fff" stroke="#9a9cf0" stroke-width="0.95"/><path d="M565.50,245.70 L565.50,247.00 M562.80,247.00 L563.30,247.50 M568.40,247.00 L567.90,247.50 M561.50,250.80 L562.00,250.80 M569.60,250.80 L569.10,250.80" stroke="#9a9cf0" stroke-width="1.25" stroke-linecap="round"/><path d="M914.8,246.2 L918.6,252.6 L911,252.6 Z" fill="none" stroke="#222" stroke-width="1.2" stroke-linejoin="round"/><line x1="435" y1="416.53" x2="923" y2="416.53" stroke="#ececec" stroke-width="0.9"/><line x1="435" y1="392.86" x2="923" y2="392.86" stroke="#ececec" stroke-width="0.9"/><line x1="435" y1="369.19" x2="923" y2="369.19" stroke="#ececec" stroke-width="0.9"/><line x1="435" y1="345.52" x2="923" y2="345.52" stroke="#ececec" stroke-width="0.9"/><line x1="435" y1="321.85" x2="923" y2="321.85" stroke="#ececec" stroke-width="0.9"/><line x1="435" y1="298.18" x2="923" y2="298.18" stroke="#ececec" stroke-width="0.9"/><line x1="435" y1="274.51" x2="923" y2="274.51" stroke="#ececec" stroke-width="0.9"/><rect x="436.00" y="358.10" width="8" height="82.10" fill="#2290b3"/><rect x="445.98" y="355.90" width="8" height="84.30" fill="#2290b3"/><rect x="455.96" y="354.20" width="8" height="86.00" fill="#2290b3"/><rect x="465.94" y="351.90" width="8" height="88.30" fill="#2290b3"/><rect x="475.92" y="349.20" width="8" height="91.00" fill="#2290b3"/><rect x="485.89" y="347.00" width="8" height="93.20" fill="#2290b3"/><rect x="495.87" y="344.70" width="8" height="95.50" fill="#2290b3"/><rect x="505.85" y="342.00" width="8" height="98.20" fill="#2290b3"/><rect x="515.83" y="339.90" width="8" height="100.30" fill="#2290b3"/><rect x="515.83" y="319.80" width="8" height="20.10" fill="#febc45"/><rect x="525.81" y="337.30" width="8" height="102.90" fill="#2290b3"/><rect x="535.79" y="335.10" width="8" height="105.10" fill="#2290b3"/><rect x="545.77" y="332.10" width="8" height="108.10" fill="#2290b3"/><rect x="555.75" y="329.80" width="8" height="110.40" fill="#2290b3"/><rect x="565.73" y="327.10" width="8" height="113.10" fill="#2290b3"/><rect x="565.73" y="324.30" width="8" height="2.80" fill="#86e6c4"/><rect x="575.71" y="434.10" width="8" height="6.10" fill="#001c50"/><rect x="575.71" y="417.20" width="8" height="16.90" fill="#2290b3"/><rect x="575.71" y="414.30" width="8" height="2.90" fill="#86e6c4"/><rect x="575.71" y="386.40" width="8" height="27.90" fill="#febc45"/><rect x="585.68" y="429.10" width="8" height="11.10" fill="#001c50"/><rect x="585.68" y="426.20" width="8" height="2.90" fill="#86e6c4"/><rect x="585.68" y="388.50" width="8" height="37.70" fill="#febc45"/><rect x="595.66" y="429.40" width="8" height="10.80" fill="#001c50"/><rect x="595.66" y="425.70" width="8" height="3.70" fill="#86e6c4"/><rect x="595.66" y="387.60" width="8" height="38.10" fill="#febc45"/><rect x="605.64" y="428.90" width="8" height="11.30" fill="#001c50"/><rect x="605.64" y="425.70" width="8" height="3.20" fill="#86e6c4"/><rect x="605.64" y="386.70" width="8" height="39.00" fill="#febc45"/><rect x="615.62" y="423.90" width="8" height="16.30" fill="#001c50"/><rect x="615.62" y="420.10" width="8" height="3.80" fill="#86e6c4"/><rect x="615.62" y="383.40" width="8" height="36.70" fill="#febc45"/><rect x="625.60" y="422.10" width="8" height="18.10" fill="#001c50"/><rect x="625.60" y="418.60" width="8" height="3.50" fill="#86e6c4"/><rect x="625.60" y="374.30" width="8" height="44.30" fill="#febc45"/><rect x="635.58" y="421.80" width="8" height="18.40" fill="#001c50"/><rect x="635.58" y="418.60" width="8" height="3.20" fill="#86e6c4"/><rect x="635.58" y="372.80" width="8" height="45.80" fill="#febc45"/><rect x="645.56" y="421.30" width="8" height="18.90" fill="#001c50"/><rect x="645.56" y="417.90" width="8" height="3.40" fill="#86e6c4"/><rect x="645.56" y="371.40" width="8" height="46.50" fill="#febc45"/><rect x="655.54" y="421.20" width="8" height="19.00" fill="#001c50"/><rect x="655.54" y="417.60" width="8" height="3.60" fill="#86e6c4"/><rect x="655.54" y="401.70" width="8" height="15.90" fill="#e4652b"/><rect x="655.54" y="369.40" width="8" height="32.30" fill="#febc45"/><rect x="665.52" y="421.20" width="8" height="19.00" fill="#001c50"/><rect x="665.52" y="417.60" width="8" height="3.60" fill="#86e6c4"/><rect x="665.52" y="396.50" width="8" height="21.10" fill="#e4652b"/><rect x="665.52" y="367.60" width="8" height="28.90" fill="#febc45"/><rect x="675.50" y="421.20" width="8" height="19.00" fill="#001c50"/><rect x="675.50" y="417.60" width="8" height="3.60" fill="#86e6c4"/><rect x="675.50" y="396.90" width="8" height="20.70" fill="#e4652b"/><rect x="675.50" y="365.90" width="8" height="31.00" fill="#febc45"/><rect x="685.47" y="421.20" width="8" height="19.00" fill="#001c50"/><rect x="685.47" y="417.60" width="8" height="3.60" fill="#86e6c4"/><rect x="685.47" y="397.70" width="8" height="19.90" fill="#e4652b"/><rect x="685.47" y="364.10" width="8" height="33.60" fill="#febc45"/><rect x="695.45" y="421.20" width="8" height="19.00" fill="#001c50"/><rect x="695.45" y="417.60" width="8" height="3.60" fill="#86e6c4"/><rect x="695.45" y="398.00" width="8" height="19.60" fill="#e4652b"/><rect x="695.45" y="362.30" width="8" height="35.70" fill="#febc45"/><rect x="705.43" y="421.20" width="8" height="19.00" fill="#001c50"/><rect x="705.43" y="417.60" width="8" height="3.60" fill="#86e6c4"/><rect x="705.43" y="399.20" width="8" height="18.40" fill="#e4652b"/><rect x="705.43" y="360.30" width="8" height="38.90" fill="#febc45"/><rect x="715.41" y="421.20" width="8" height="19.00" fill="#001c50"/><rect x="715.41" y="417.60" width="8" height="3.60" fill="#86e6c4"/><rect x="715.41" y="400.60" width="8" height="17.00" fill="#e4652b"/><rect x="715.41" y="358.10" width="8" height="42.50" fill="#febc45"/><rect x="725.39" y="421.20" width="8" height="19.00" fill="#001c50"/><rect x="725.39" y="417.60" width="8" height="3.60" fill="#86e6c4"/><rect x="725.39" y="402.40" width="8" height="15.20" fill="#e4652b"/><rect x="725.39" y="356.50" width="8" height="45.90" fill="#febc45"/><rect x="735.37" y="421.20" width="8" height="19.00" fill="#001c50"/><rect x="735.37" y="417.60" width="8" height="3.60" fill="#86e6c4"/><rect x="735.37" y="404.00" width="8" height="13.60" fill="#e4652b"/><rect x="735.37" y="354.50" width="8" height="49.50" fill="#febc45"/><rect x="745.35" y="421.20" width="8" height="19.00" fill="#001c50"/><rect x="745.35" y="417.60" width="8" height="3.60" fill="#86e6c4"/><rect x="745.35" y="406.70" width="8" height="10.90" fill="#e4652b"/><rect x="745.35" y="352.40" width="8" height="54.30" fill="#febc45"/><rect x="755.33" y="421.20" width="8" height="19.00" fill="#001c50"/><rect x="755.33" y="417.60" width="8" height="3.60" fill="#86e6c4"/><rect x="755.33" y="409.80" width="8" height="7.80" fill="#e4652b"/><rect x="755.33" y="350.20" width="8" height="59.60" fill="#febc45"/><rect x="765.31" y="421.20" width="8" height="19.00" fill="#001c50"/><rect x="765.31" y="417.60" width="8" height="3.60" fill="#86e6c4"/><rect x="765.31" y="412.80" width="8" height="4.80" fill="#e4652b"/><rect x="765.31" y="351.50" width="8" height="61.30" fill="#febc45"/><rect x="775.29" y="421.00" width="8" height="19.20" fill="#001c50"/><rect x="775.29" y="415.90" width="8" height="5.10" fill="#86e6c4"/><rect x="775.29" y="361.10" width="8" height="54.80" fill="#febc45"/><rect x="785.26" y="421.00" width="8" height="19.20" fill="#001c50"/><rect x="785.26" y="415.90" width="8" height="5.10" fill="#86e6c4"/><rect x="785.26" y="388.50" width="8" height="27.40" fill="#febc45"/><rect x="795.24" y="421.00" width="8" height="19.20" fill="#001c50"/><rect x="795.24" y="416.20" width="8" height="4.80" fill="#86e6c4"/><rect x="805.22" y="421.00" width="8" height="19.20" fill="#001c50"/><rect x="805.22" y="415.60" width="8" height="5.40" fill="#86e6c4"/><rect x="815.20" y="421.00" width="8" height="19.20" fill="#001c50"/><rect x="815.20" y="415.60" width="8" height="5.40" fill="#86e6c4"/><rect x="825.18" y="421.00" width="8" height="19.20" fill="#001c50"/><rect x="825.18" y="415.60" width="8" height="5.40" fill="#86e6c4"/><rect x="835.16" y="419.90" width="8" height="20.30" fill="#001c50"/><rect x="835.16" y="414.90" width="8" height="5.00" fill="#86e6c4"/><rect x="845.14" y="419.90" width="8" height="20.30" fill="#001c50"/><rect x="845.14" y="414.90" width="8" height="5.00" fill="#86e6c4"/><rect x="855.12" y="419.90" width="8" height="20.30" fill="#001c50"/><rect x="855.12" y="414.90" width="8" height="5.00" fill="#86e6c4"/><rect x="865.10" y="419.90" width="8" height="20.30" fill="#001c50"/><rect x="865.10" y="414.20" width="8" height="5.70" fill="#86e6c4"/><rect x="875.08" y="419.90" width="8" height="20.30" fill="#001c50"/><rect x="875.08" y="414.20" width="8" height="5.70" fill="#86e6c4"/><rect x="885.05" y="419.90" width="8" height="20.30" fill="#001c50"/><rect x="885.05" y="414.20" width="8" height="5.70" fill="#86e6c4"/><rect x="895.03" y="419.90" width="8" height="20.30" fill="#001c50"/><rect x="895.03" y="413.70" width="8" height="6.20" fill="#86e6c4"/><rect x="905.01" y="419.90" width="8" height="20.30" fill="#001c50"/><rect x="905.01" y="295.40" width="8" height="124.50" fill="#86e6c4"/><rect x="914.99" y="427.90" width="8" height="12.30" fill="#001c50"/><rect x="914.99" y="420.70" width="8" height="7.20" fill="#86e6c4"/><rect x="914.99" y="299.90" width="8" height="120.80" fill="#febc45"/><line x1="439.90" y1="440.3" x2="439.90" y2="445.8" stroke="#d2dbe7" stroke-width="0.9"/><line x1="449.88" y1="440.3" x2="449.88" y2="445.8" stroke="#d2dbe7" stroke-width="0.9"/><line x1="459.86" y1="440.3" x2="459.86" y2="445.8" stroke="#d2dbe7" stroke-width="0.9"/><line x1="469.84" y1="440.3" x2="469.84" y2="445.8" stroke="#d2dbe7" stroke-width="0.9"/><line x1="479.82" y1="440.3" x2="479.82" y2="445.8" stroke="#d2dbe7" stroke-width="0.9"/><line x1="489.79" y1="440.3" x2="489.79" y2="445.8" stroke="#d2dbe7" stroke-width="0.9"/><line x1="499.77" y1="440.3" x2="499.77" y2="445.8" stroke="#d2dbe7" stroke-width="0.9"/><line x1="509.75" y1="440.3" x2="509.75" y2="445.8" stroke="#d2dbe7" stroke-width="0.9"/><line x1="519.73" y1="440.3" x2="519.73" y2="445.8" stroke="#d2dbe7" stroke-width="0.9"/><line x1="529.71" y1="440.3" x2="529.71" y2="445.8" stroke="#d2dbe7" stroke-width="0.9"/><line x1="539.69" y1="440.3" x2="539.69" y2="445.8" stroke="#d2dbe7" stroke-width="0.9"/><line x1="549.67" y1="440.3" x2="549.67" y2="445.8" stroke="#d2dbe7" stroke-width="0.9"/><line x1="559.65" y1="440.3" x2="559.65" y2="445.8" stroke="#d2dbe7" stroke-width="0.9"/><line x1="569.63" y1="440.3" x2="569.63" y2="445.8" stroke="#d2dbe7" stroke-width="0.9"/><line x1="579.61" y1="440.3" x2="579.61" y2="445.8" stroke="#d2dbe7" stroke-width="0.9"/><line x1="589.59" y1="440.3" x2="589.59" y2="445.8" stroke="#d2dbe7" stroke-width="0.9"/><line x1="599.56" y1="440.3" x2="599.56" y2="445.8" stroke="#d2dbe7" stroke-width="0.9"/><line x1="609.54" y1="440.3" x2="609.54" y2="445.8" stroke="#d2dbe7" stroke-width="0.9"/><line x1="619.52" y1="440.3" x2="619.52" y2="445.8" stroke="#d2dbe7" stroke-width="0.9"/><line x1="629.50" y1="440.3" x2="629.50" y2="445.8" stroke="#d2dbe7" stroke-width="0.9"/><line x1="639.48" y1="440.3" x2="639.48" y2="445.8" stroke="#d2dbe7" stroke-width="0.9"/><line x1="649.46" y1="440.3" x2="649.46" y2="445.8" stroke="#d2dbe7" stroke-width="0.9"/><line x1="659.44" y1="440.3" x2="659.44" y2="445.8" stroke="#d2dbe7" stroke-width="0.9"/><line x1="669.42" y1="440.3" x2="669.42" y2="445.8" stroke="#d2dbe7" stroke-width="0.9"/><line x1="679.40" y1="440.3" x2="679.40" y2="445.8" stroke="#d2dbe7" stroke-width="0.9"/><line x1="689.38" y1="440.3" x2="689.38" y2="445.8" stroke="#d2dbe7" stroke-width="0.9"/><line x1="699.35" y1="440.3" x2="699.35" y2="445.8" stroke="#d2dbe7" stroke-width="0.9"/><line x1="709.33" y1="440.3" x2="709.33" y2="445.8" stroke="#d2dbe7" stroke-width="0.9"/><line x1="719.31" y1="440.3" x2="719.31" y2="445.8" stroke="#d2dbe7" stroke-width="0.9"/><line x1="729.29" y1="440.3" x2="729.29" y2="445.8" stroke="#d2dbe7" stroke-width="0.9"/><line x1="739.27" y1="440.3" x2="739.27" y2="445.8" stroke="#d2dbe7" stroke-width="0.9"/><line x1="749.25" y1="440.3" x2="749.25" y2="445.8" stroke="#d2dbe7" stroke-width="0.9"/><line x1="759.23" y1="440.3" x2="759.23" y2="445.8" stroke="#d2dbe7" stroke-width="0.9"/><line x1="769.21" y1="440.3" x2="769.21" y2="445.8" stroke="#d2dbe7" stroke-width="0.9"/><line x1="779.19" y1="440.3" x2="779.19" y2="445.8" stroke="#d2dbe7" stroke-width="0.9"/><line x1="789.16" y1="440.3" x2="789.16" y2="445.8" stroke="#d2dbe7" stroke-width="0.9"/><line x1="799.14" y1="440.3" x2="799.14" y2="445.8" stroke="#d2dbe7" stroke-width="0.9"/><line x1="809.12" y1="440.3" x2="809.12" y2="445.8" stroke="#d2dbe7" stroke-width="0.9"/><line x1="819.10" y1="440.3" x2="819.10" y2="445.8" stroke="#d2dbe7" stroke-width="0.9"/><line x1="829.08" y1="440.3" x2="829.08" y2="445.8" stroke="#d2dbe7" stroke-width="0.9"/><line x1="839.06" y1="440.3" x2="839.06" y2="445.8" stroke="#d2dbe7" stroke-width="0.9"/><line x1="849.04" y1="440.3" x2="849.04" y2="445.8" stroke="#d2dbe7" stroke-width="0.9"/><line x1="859.02" y1="440.3" x2="859.02" y2="445.8" stroke="#d2dbe7" stroke-width="0.9"/><line x1="869.00" y1="440.3" x2="869.00" y2="445.8" stroke="#d2dbe7" stroke-width="0.9"/><line x1="878.98" y1="440.3" x2="878.98" y2="445.8" stroke="#d2dbe7" stroke-width="0.9"/><line x1="888.95" y1="440.3" x2="888.95" y2="445.8" stroke="#d2dbe7" stroke-width="0.9"/><line x1="898.93" y1="440.3" x2="898.93" y2="445.8" stroke="#d2dbe7" stroke-width="0.9"/><line x1="908.91" y1="440.3" x2="908.91" y2="445.8" stroke="#d2dbe7" stroke-width="0.9"/><line x1="918.89" y1="440.3" x2="918.89" y2="445.8" stroke="#d2dbe7" stroke-width="0.9"/><line x1="435" y1="440.3" x2="923" y2="440.3" stroke="#d2dbe7" stroke-width="0.7"/><polyline points="439.95,365.30 449.93,363.20 459.91,359.50 469.89,357.60 479.87,355.90 489.84,354.20 499.82,352.00 509.80,349.30 519.78,319.30 529.76,344.40 539.74,342.90 549.72,340.70 559.70,337.80 569.68,332.00 579.66,385.50 589.63,387.60 599.61,387.00 609.59,385.20 619.57,382.50 629.55,373.40 639.53,372.00 649.51,370.00 659.49,368.14 669.47,366.27 679.45,364.41 689.42,362.55 699.40,360.68 709.38,358.82 719.36,356.95 729.34,355.09 739.32,353.23 749.30,351.36 759.28,349.50 769.26,351.20 779.24,360.60 789.21,358.41 799.19,356.22 809.17,354.02 819.15,351.83 829.13,349.64 839.11,347.45 849.09,345.25 859.07,343.06 869.05,340.87 879.03,338.68 889.00,336.48 898.98,334.29 908.96,332.10 918.94,330.90" fill="none" stroke="#cf2140" stroke-width="1.35" stroke-linejoin="round"/><circle cx="579.4" cy="440.5" r="4.4" fill="#fff" stroke="#5cc98f" stroke-width="0.9"/><path d="M577.1,442.3 L577.7,440.9 A2,1.8 0 0 1 581.1,440.9 L581.7,442.3 Z" fill="#2b7a62"/><circle cx="589.5" cy="440.5" r="4.4" fill="#fff" stroke="#a06a88" stroke-width="0.9"/><path d="M587.2,442.3 L587.8,440.9 A2,1.8 0 0 1 591.2,440.9 L591.8,442.3 Z" fill="#7b3a5e"/><circle cx="908.2" cy="440" r="4.4" fill="#fff" stroke="#1f3a5f" stroke-width="1"/><path d="M906.2,441.8 L910.2,441.8 L908.2,438.2 Z" fill="#1f2a3a"/><rect x="441" y="470" width="8" height="8" rx="1.5" fill="#001c50"/><rect x="521" y="470" width="8" height="8" rx="1.5" fill="#2290b3"/><rect x="611.6" y="470" width="8" height="8" rx="1.5" fill="#86e6c4"/><rect x="687" y="470" width="8" height="8" rx="1.5" fill="#e4652b"/><rect x="829.4" y="470" width="8" height="8" rx="1.5" fill="#febc45"/><line x1="440" y1="491" x2="449.7" y2="491" stroke="#cf2140" stroke-width="1.3"/><circle cx="546.4" cy="531.8" r="3.1" fill="none" stroke="#2f3744" stroke-width="0.8"/><path d="M545.4,531.1 A1.05,1.05 0 1 1 546.9,532 L546.4,532.6" fill="none" stroke="#2f3744" stroke-width="0.7"/><path d="M755.3,607.3 L759.4,614 L751.2,614 Z" fill="none" stroke="#222" stroke-width="1.2" stroke-linejoin="round"/><rect x="815.35" y="611.40" width="5.7" height="3.0" rx="0.6" fill="#4a9055"/><path d="M815.60,611.50 A2.6,2.3 0 0 1 820.80,611.50" fill="#fff" stroke="#4a9055" stroke-width="0.95"/><path d="M818.20,606.30 L818.20,607.60 M815.50,607.60 L816.00,608.10 M821.10,607.60 L820.60,608.10 M814.20,611.40 L814.70,611.40 M822.30,611.40 L821.80,611.40" stroke="#4a9055" stroke-width="1.25" stroke-linecap="round"/><rect x="877.95" y="611.40" width="5.7" height="3.0" rx="0.6" fill="#9a9cf0"/><path d="M878.20,611.50 A2.6,2.3 0 0 1 883.40,611.50" fill="#fff" stroke="#9a9cf0" stroke-width="0.95"/><path d="M880.80,606.30 L880.80,607.60 M878.10,607.60 L878.60,608.10 M883.70,607.60 L883.20,608.10 M876.80,611.40 L877.30,611.40 M884.90,611.40 L884.40,611.40" stroke="#9a9cf0" stroke-width="1.25" stroke-linecap="round"/></svg>
</body></html>
